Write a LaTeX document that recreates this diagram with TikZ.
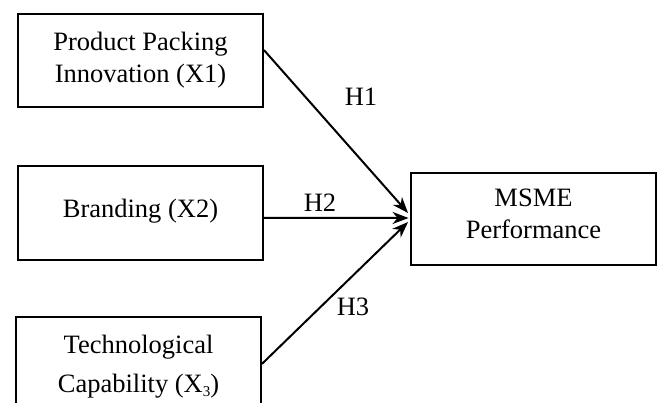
\documentclass[tikz,border=0pt]{standalone}
\usepackage{fontspec}
\setmainfont{Liberation Serif}
\usetikzlibrary{arrows.meta,calc}
\begin{document}
\begin{tikzpicture}[x=1pt,y=-1pt,
  box/.style={draw,line width=1.9pt,rectangle,inner sep=0pt,minimum width=245pt,align=center,
    font=\fontsize{26.5pt}{32pt}\selectfont},
  conn/.style={line width=2pt,-{Stealth[length=16pt,width=12pt,inset=5pt]}},
  lab/.style={font=\fontsize{26.5pt}{32pt}\selectfont,inner sep=0pt}]
\useasboundingbox (0,0) rectangle (657,403);
\node[box,minimum height=93pt] (b1) at (140.5,60.5) {Product Packing\\Innovation (X1)};
\node[box,minimum height=94pt] (b2) at (140.5,213) {Branding (X2)\\[-22pt]\mbox{}};
\node[box,minimum height=100pt,anchor=north,font=\fontsize{26.5pt}{39pt}\selectfont] (b3) at (138.5,316) {Technological\\Capability (X\raisebox{-4pt}{\fontsize{15pt}{15pt}\selectfont 3})};
\node[box,minimum height=92pt] (b4) at (533.5,219) {MSME\\Performance\\[-22pt]\mbox{}};
\coordinate (t1) at ($(b4.west)+(-2,-6)$);
\coordinate (t2) at ($(b4.west)+(-1.5,-1)$);
\coordinate (t3) at ($(b4.west)+(-2,3)$);
\draw[conn] ($(b1.north east)!0.39!(b1.south east)$) -- (t1);
\draw[conn] ($(b2.north east)!0.55!(b2.south east)$) -- (t2);
\draw[conn] ($(b3.north east)!0.47!(b3.south east)$) -- (t3);
\node[lab] (h1) at (361,97) {H1};
\node[lab] (h2) at (320,203) {H2};
\node[lab] (h3) at (353,307) {H3};
\end{tikzpicture}
\end{document}
